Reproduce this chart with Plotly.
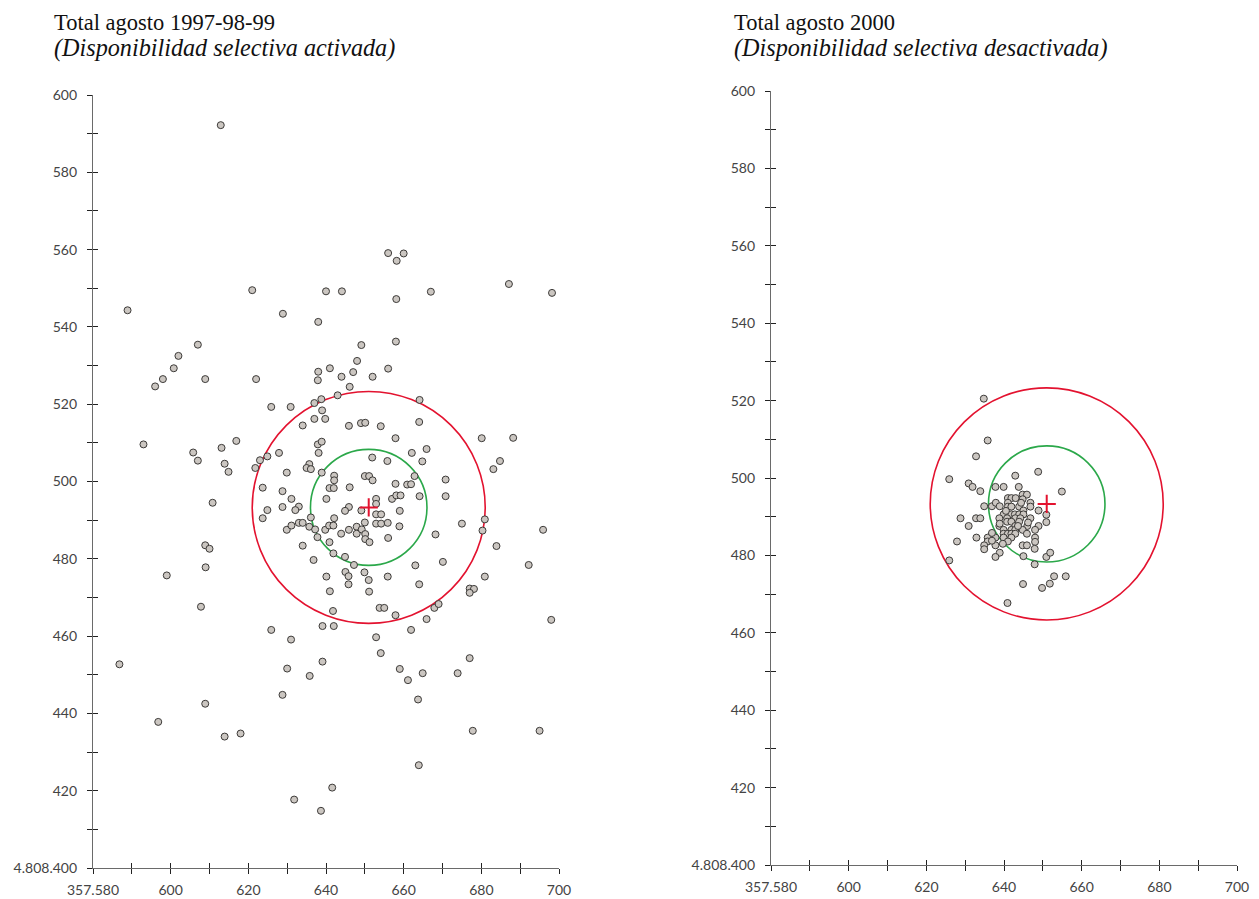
import plotly.graph_objects as go

# ---------------- data ----------------
left_x = [612.9, 588.9, 621.0, 640.0, 628.9, 638.0, 607.0, 602.0, 600.8, 598.0, 608.9, 622.0, 638.0, 641.0,
          637.9, 596.0, 656.0, 660.0, 658.2, 644.1, 658.1, 667.0, 687.1, 698.2, 649.1, 658.0, 648.0, 647.0,
          644.0, 652.0, 656.0, 646.1,
          643.0, 664.1, 625.9, 630.9, 637.0, 638.8, 639.0, 637.0, 639.8, 634.0, 645.9, 649.0, 650.1, 654.1,
          664.0, 680.1, 657.9, 616.9, 613.1, 637.9, 638.9, 638.1, 627.9, 624.9, 623.0, 613.9, 614.9, 621.8,
          635.7, 635.0, 636.1, 638.9, 629.9, 651.9, 655.8, 662.1, 665.9, 664.8, 683.1, 684.8, 642.1, 642.1,
          650.0, 651.1, 652.0, 662.8, 670.8, 623.7, 628.8, 640.9, 642.0, 646.1, 657.9, 660.9, 661.9, 664.1,
          670.8, 640.1, 657.0, 658.1, 659.2, 631.1, 628.8, 633.0, 632.1, 624.9, 623.7, 645.9, 644.9, 649.1,
          652.9, 652.9, 659.0, 636.1, 642.1, 652.9, 654.2, 650.0, 652.9, 654.2, 655.9, 658.9, 675.0, 680.9,
          680.3, 629.9, 631.1, 633.0, 634.0, 635.7, 637.2, 639.8, 640.8, 641.9, 645.9, 647.9, 647.9, 649.2,
          643.9, 650.1, 650.1, 651.2, 656.0, 668.2, 637.8, 640.9, 634.0, 683.9, 641.9, 644.9, 647.2, 636.8,
          663.0, 670.1, 645.0, 645.8, 649.9, 651.0, 640.1, 655.9, 680.9, 645.8, 664.0, 641.0, 651.1, 677.0,
          678.1, 677.0, 641.8, 653.8, 655.0, 657.9, 667.9, 669.0, 665.9, 639.1, 642.0, 625.9, 661.9, 652.9,
          631.0,
          593.0, 605.8, 607.0, 610.8, 608.9, 610.0, 609.0, 599.0, 607.8,
          688.2, 695.9, 692.2, 698.0,
          586.8, 639.1, 630.0, 635.8, 628.8, 608.9, 596.8, 613.9, 618.0, 641.6, 631.8, 638.7, 654.1, 677.0,
          659.0, 664.9, 673.9, 661.1, 663.7, 677.8, 695.0, 663.9]
left_y = [592.2, 544.3, 549.5, 549.2, 543.4, 541.3, 535.4, 532.5, 529.3, 526.5, 526.5, 526.5, 528.4, 529.3,
          526.2, 524.6, 559.1, 559.0, 557.1, 549.2, 547.2, 549.1, 551.1, 548.8, 535.3, 536.2, 531.2, 528.3,
          527.1, 527.1, 529.2, 524.5,
          522.3, 521.1, 519.3, 519.3, 520.3, 521.3, 518.4, 516.2, 516.2, 514.5, 514.4, 515.1, 515.2, 514.3,
          515.4, 511.2, 511.2, 510.5, 508.7, 509.6, 510.3, 507.4, 507.4, 506.5, 505.5, 504.6, 502.5, 503.5,
          504.5, 503.5, 503.2, 502.3, 502.3, 506.2, 505.3, 507.4, 508.4, 505.2, 503.2, 505.3, 501.5, 500.3,
          501.4, 501.4, 500.3, 501.4, 500.5, 498.4, 497.5, 498.3, 498.3, 498.5, 499.4, 499.2, 499.3, 496.2,
          496.2, 495.5, 495.5, 496.4, 496.4, 495.5, 493.4, 493.5, 492.6, 492.6, 490.5, 493.4, 492.4, 492.5,
          495.5, 494.2, 492.4, 490.7, 490.5, 491.5, 491.5, 489.4, 489.1, 489.1, 489.3, 488.4, 489.1, 490.2,
          487.3, 487.5, 488.6, 489.3, 489.3, 488.3, 487.6, 487.5, 488.6, 488.6, 487.5, 488.3, 486.5, 487.6,
          486.5, 486.4, 485.1, 484.3, 485.4, 486.3, 485.6, 484.3, 483.4, 483.3, 481.4, 480.5, 478.4, 479.7,
          478.3, 479.2, 476.6, 475.5, 476.5, 474.5, 475.4, 475.4, 475.4, 473.4, 473.4, 471.6, 471.5, 472.3,
          472.2, 471.2, 466.5, 467.3, 467.3, 465.4, 467.3, 468.3, 464.4, 462.6, 462.6, 461.6, 461.6, 459.7,
          459.1,
          509.6, 507.5, 505.4, 494.5, 483.5, 482.6, 477.8, 475.7, 467.6,
          511.3, 487.5, 478.4, 464.2,
          452.7, 453.4, 451.6, 449.7, 444.8, 442.5, 437.8, 434.0, 434.8, 420.8, 417.7, 414.8, 455.6, 454.3,
          451.5, 450.4, 450.4, 448.6, 443.6, 435.5, 435.5, 426.6]

right_x = [634.8, 635.8, 632.8, 625.9, 642.9, 648.8, 630.9, 631.9, 633.9, 637.8, 639.9, 643.8, 654.9, 641.0,
           641.9, 643.0, 644.8, 645.9, 644.8, 634.9, 636.9, 637.9, 638.9, 641.0, 641.0, 641.9, 643.9, 645.0,
           646.8, 646.8, 648.9, 650.9, 650.9, 639.9, 641.9, 642.8, 643.9, 645.0, 628.8, 632.8, 633.9, 638.8,
           640.8, 642.9, 644.2, 646.8, 630.9, 638.8, 640.8, 641.9, 642.9, 643.9, 646.0, 648.9, 648.0, 639.9,
           641.9, 642.9, 644.8, 639.9, 641.0, 641.9, 642.9, 645.9, 632.9, 635.8, 637.8, 639.9, 641.9, 648.0,
           648.0, 635.8, 641.0, 627.9, 634.9, 637.8, 644.8, 645.9, 647.9, 634.9, 638.9, 637.8, 625.9, 645.0,
           650.9, 651.9, 647.9, 652.9, 655.9, 644.9, 649.8, 651.8, 640.9,
           636.9, 639.7, 646.2, 638.9, 640.5, 644.4, 643.6, 636.9]
right_y = [520.5, 509.7, 505.6, 499.7, 500.6, 501.6, 498.6, 497.7, 496.6, 497.7, 497.7, 497.7, 496.5, 494.8,
           494.8, 494.8, 495.7, 495.7, 494.5, 492.7, 492.7, 493.6, 492.7, 493.6, 492.6, 492.6, 492.6, 491.6,
           493.6, 492.6, 491.6, 490.5, 488.6, 490.6, 490.6, 490.6, 490.6, 490.6, 489.6, 489.6, 489.6, 489.6,
           489.6, 489.6, 489.6, 489.6, 487.6, 487.6, 488.7, 488.7, 487.6, 488.7, 487.6, 487.6, 486.6, 486.6,
           486.6, 486.6, 486.6, 485.6, 485.6, 485.6, 485.6, 485.6, 484.6, 484.6, 484.6, 484.6, 484.6, 484.6,
           483.5, 483.6, 483.6, 483.6, 482.6, 482.6, 482.6, 482.6, 481.7, 481.6, 480.7, 479.6, 478.7, 479.8,
           479.6, 480.7, 477.7, 474.6, 474.6, 472.6, 471.6, 472.7, 467.7,
           483.8, 483.0, 488.5, 488.2, 491.5, 493.6, 487.6, 485.8]

center_x = 651.0
center_y = 493.3
radius_outer = 30
radius_inner = 15

x_range = [580, 700]
y_range = [400, 600]
x_tick_vals = list(range(580, 701, 10))
x_tick_text = ["357.580" if v == 580 else (str(v) if v % 20 == 0 else "") for v in x_tick_vals]
y_tick_vals = list(range(400, 601, 10))
y_tick_text = ["4.808.400" if v == 400 else (str(v) if v % 20 == 0 else "") for v in y_tick_vals]

titles = ["Total agosto 1997-98-99", "Total agosto 2000"]
subtitles = ["(Disponibilidad selectiva activada)", "(Disponibilidad selectiva desactivada)"]

# ---------------- styling ----------------
OFF = 8                      # page body margin of the html page
W, H = 1259 - OFF, 899 - OFF
point_fill = "#cbc6c1"
point_edge = "#3c3a38"
red = "#e3122f"
green = "#2ba84a"
axis_col = "#6a6a6a"
tick_col = "#222222"
tick_font = dict(family="Lato, 'Liberation Sans', sans-serif", size=14, color="#444444")
serif = "'Liberation Serif', 'DejaVu Serif', serif"


def px_x(v):
    return (v - OFF) / W


def px_y(v):
    return 1 - (v - OFF) / H


panels = [
    dict(xs=left_x, ys=left_y, xa="x", ya="y", xa_o="x3", ya_o="y3",
         xdom=[px_x(93), px_x(559)], ydom=[px_y(868), px_y(95)], tx=52),
    dict(xs=right_x, ys=right_y, xa="x2", ya="y2", xa_o="x4", ya_o="y4",
         xdom=[px_x(771), px_x(1237)], ydom=[px_y(865), px_y(91)], tx=732),
]

fig = go.Figure()
layout_axes = {}


def axname(a):
    return "xaxis" + a[1:] if a.startswith("x") else "yaxis" + a[1:]


for i, p in enumerate(panels):
    fig.add_trace(go.Scatter(
        x=p["xs"], y=p["ys"], mode="markers", xaxis=p["xa"], yaxis=p["ya"],
        marker=dict(size=7, color=point_fill, line=dict(color=point_edge, width=1)),
        hoverinfo="x+y", showlegend=False))
    fig.add_trace(go.Scatter(
        x=[center_x], y=[center_y], mode="markers", xaxis=p["xa"], yaxis=p["ya"],
        marker=dict(symbol="cross-thin", size=13, line=dict(color=red, width=2)),
        hoverinfo="skip", showlegend=False))
    fig.add_trace(go.Scatter(x=[], y=[], xaxis=p["xa_o"], yaxis=p["ya_o"],
                             hoverinfo="skip", showlegend=False))

    for r, col in [(radius_outer, red), (radius_inner, green)]:
        fig.add_shape(type="circle", xref=p["xa"], yref=p["ya"],
                      x0=center_x - r, x1=center_x + r, y0=center_y - r, y1=center_y + r,
                      line=dict(color=col, width=1.6), layer="below")

    common_x = dict(range=x_range, tickmode="array", tickvals=x_tick_vals, showgrid=False,
                    zeroline=False, ticklen=5, tickwidth=1, tickcolor=tick_col, automargin=False)
    common_y = dict(range=y_range, tickmode="array", tickvals=y_tick_vals, showgrid=False,
                    zeroline=False, ticklen=5, tickwidth=1, tickcolor=tick_col, automargin=False)

    layout_axes[axname(p["xa"])] = dict(common_x, domain=p["xdom"], anchor=p["ya"], ticks="outside",
                                        ticktext=x_tick_text, showline=True, linecolor=axis_col,
                                        linewidth=1.3, tickfont=tick_font, ticklabelstandoff=4)
    layout_axes[axname(p["ya"])] = dict(common_y, domain=p["ydom"], anchor=p["xa"], ticks="outside",
                                        ticktext=y_tick_text, showline=True, linecolor=axis_col,
                                        linewidth=1.3, tickfont=tick_font, ticklabelstandoff=7)
    layout_axes[axname(p["xa_o"])] = dict(common_x, overlaying=p["xa"], anchor=p["ya"], side="bottom",
                                          ticks="inside", showticklabels=False, showline=False)
    layout_axes[axname(p["ya_o"])] = dict(common_y, overlaying=p["ya"], anchor=p["xa"], side="left",
                                          ticks="inside", showticklabels=False, showline=False)

    fig.add_annotation(xref="paper", yref="paper", x=px_x(p["tx"]), y=px_y(22),
                       xanchor="left", yanchor="middle", align="left", showarrow=False,
                       text=titles[i], font=dict(family=serif, size=22.5, color="#111111"))
    fig.add_annotation(xref="paper", yref="paper", x=px_x(p["tx"]), y=px_y(48),
                       xanchor="left", yanchor="middle", align="left", showarrow=False,
                       text="<i>" + subtitles[i] + "</i>",
                       font=dict(family=serif, size=24.2, color="#111111"))

fig.update_layout(
    width=W, height=H,
    margin=dict(l=0, r=0, t=0, b=0),
    paper_bgcolor="white", plot_bgcolor="white",
    showlegend=False,
    **layout_axes,
)

fig.write_html("out.html")
